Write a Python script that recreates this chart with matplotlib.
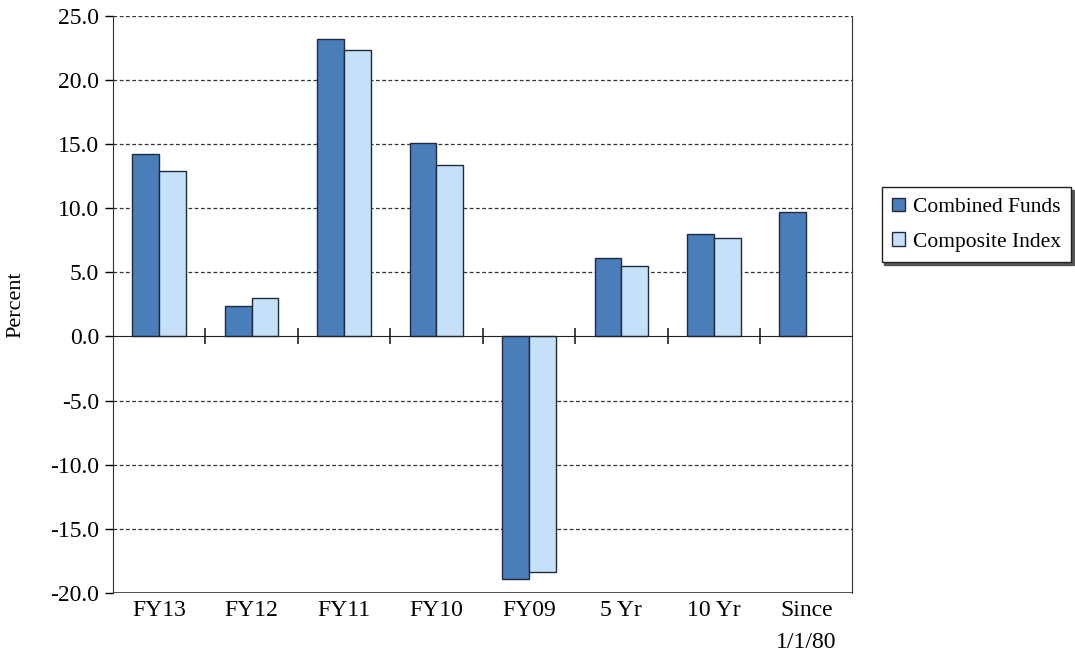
import numpy as np
import matplotlib.pyplot as plt
from matplotlib.transforms import blended_transform_factory

categories = ["FY13", "FY12", "FY11", "FY10", "FY09", "5 Yr", "10 Yr", "Since\n1/1/80"]
combined_funds = [14.2, 2.4, 23.2, 15.1, -18.9, 6.1, 8.0, 9.7]
composite_index = [12.9, 3.0, 22.3, 13.4, -18.4, 5.5, 7.7, np.nan]
yticks = np.arange(-20, 26, 5)

plt.rcParams['font.family'] = ['Liberation Serif', 'DejaVu Serif']
fs = 17

fig = plt.figure(figsize=(10.75, 6.58), dpi=100)
ax = fig.add_axes([0.105, 0.099, 0.688, 0.877])

x = np.arange(len(categories))
w = 0.29
ax.bar(x - w / 2, combined_funds, w, color="#4a7ebb", edgecolor="#1f2a3a",
       linewidth=1, label="Combined Funds", zorder=3)
ax.bar(x + w / 2, composite_index, w, color="#c6e0fa", edgecolor="#1f2a3a",
       linewidth=1, label="Composite Index", zorder=3)

ax.set_xlim(-0.5, len(categories) - 0.5)
ax.set_ylim(-20, 25)
ax.set_yticks(yticks)
ax.set_yticklabels([f"{v:.1f}" for v in yticks], fontsize=fs)
ax.tick_params(axis='y', direction='out', length=6, width=1, pad=4)
ax.set_ylabel("Percent", fontsize=fs - 1, labelpad=18)

# dashed gridlines
for v in yticks:
    if v not in (0, -20):
        ax.axhline(v, color="#333333", linestyle=(0, (3, 2)), linewidth=0.9, zorder=1)

# frame
ax.spines['top'].set_visible(False)
ax.spines['left'].set_color("#333333")
ax.spines['right'].set_color("#333333")
ax.spines['bottom'].set_position(('data', 0))
ax.spines['bottom'].set_color("#222222")
ax.spines['bottom'].set_zorder(4)
ax.axhline(-20, color="#333333", linewidth=1.2, zorder=2)

# category ticks sit on the zero line at group boundaries
ax.set_xticks(np.arange(0.5, len(categories) - 1, 1))
ax.set_xticklabels([])
ax.tick_params(axis='x', direction='inout', length=12, width=1.2, color="#222222")

trans = blended_transform_factory(ax.transData, ax.transAxes)
for xi, lab in zip(x, categories):
    ax.text(xi, -0.012, lab, transform=trans, ha='center', va='top',
            fontsize=fs, linespacing=1.7)

leg = fig.legend(loc='upper left', bbox_to_anchor=(0.82, 0.716), fontsize=15.5,
                 frameon=True, fancybox=False, shadow={'color': '#555555', 'alpha': 1},
                 edgecolor='#222222', handlelength=0.6, handleheight=0.6,
                 handletextpad=0.35, labelspacing=0.7, borderpad=0.5,
                 borderaxespad=0)
leg.get_frame().set_linewidth(1)

fig.savefig("out.png", dpi=100)
